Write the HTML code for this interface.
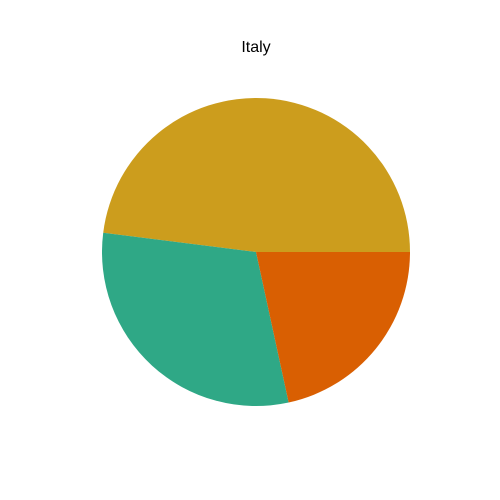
<!DOCTYPE html>
<html><head><meta charset="utf-8"><style>
body{margin:0;background:#fff;}
svg{display:block;font-family:"Liberation Sans","DejaVu Sans",sans-serif;}
</style></head><body>
<svg id="chart" width="500" height="500">
<rect width="500" height="500" fill="#fff"/>
<text x="256" y="52" text-anchor="middle" font-size="16" fill="#000">Italy</text>
<g id="slices"></g>
</svg>
<script>
const labels = ["A", "B", "C"];
const values = [48.0, 30.4, 21.6];
const colors = ["#cc9d1d", "#2fa886", "#d95f02"];
const cx = 256, cy = 252, r = 154;
const g = document.getElementById('slices');
const total = values.reduce((a,b)=>a+b,0);
let a0 = 0;
values.forEach((v,i)=>{
  const a1 = a0 + v/total*2*Math.PI;
  const x0 = cx + r*Math.cos(a0), y0 = cy - r*Math.sin(a0);
  const x1 = cx + r*Math.cos(a1), y1 = cy - r*Math.sin(a1);
  const large = (a1-a0) > Math.PI ? 1 : 0;
  const p = document.createElementNS('http://www.w3.org/2000/svg','path');
  p.setAttribute('d', `M${cx},${cy} L${x0},${y0} A${r},${r} 0 ${large} 0 ${x1},${y1} Z`);
  p.setAttribute('fill', colors[i]);
  
  
  g.appendChild(p);
  a0 = a1;
});
</script>
</body></html>
